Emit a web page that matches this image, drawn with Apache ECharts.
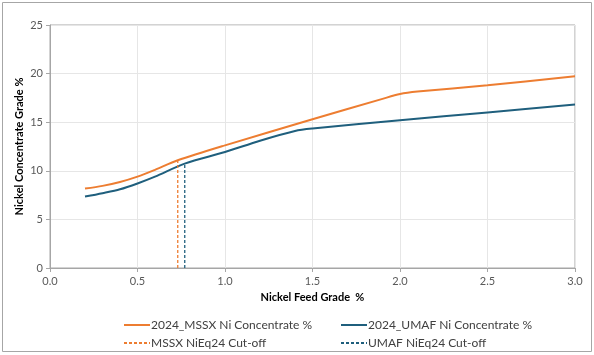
<!DOCTYPE html>
<html><head><meta charset="utf-8">
<script src="https://cdn.jsdelivr.net/npm/echarts@6/dist/echarts.min.js"></script>
<style>html,body{margin:0;padding:0;background:#fff}#c{width:594px;height:355px}</style>
</head><body><div id="c"></div>
<script>
const mssxX = [0.2, 0.3, 0.4, 0.5, 0.6, 0.73, 1.0, 1.5, 1.9, 2.0, 2.1, 2.5, 3.0];
const mssxY = [8.17, 8.45, 8.85, 9.4, 10.1, 11.08, 12.62, 15.3, 17.4, 17.9, 18.15, 18.8, 19.72];
const umafX = [0.2, 0.3, 0.4, 0.5, 0.6, 0.77, 1.0, 1.2, 1.4, 1.5, 2.0, 2.5, 3.0];
const umafY = [7.35, 7.7, 8.1, 8.7, 9.4, 10.74, 11.93, 13.1, 14.1, 14.35, 15.2, 16.0, 16.81];
const mssxCut = [0.73, 11.08];
const umafCut = [0.77, 10.74];
const names = ['2024_MSSX Ni Concentrate %', '2024_UMAF Ni Concentrate %', 'MSSX NiEq24 Cut-off', 'UMAF NiEq24 Cut-off'];
const xTicks = [0, 0.5, 1.0, 1.5, 2.0, 2.5, 3.0];
const yTicks = [0, 5, 10, 15, 20, 25];

const ORANGE = '#ED7D31', BLUE = '#1F5F7D';
const FONT = 'Lato';
const pairs = (xs, ys) => xs.map((x, i) => [x, ys[i]]);

const chart = echarts.init(document.getElementById('c'));
const legendBase = {orient: 'vertical', top: 314, itemGap: 6, itemWidth: 26, itemHeight: 10,
  itemStyle: {opacity: 0},
  textStyle: {color: '#404040', fontSize: 12, fontFamily: FONT, padding: [0, 0, 0, -4]}};
chart.setOption({
  animation: false,
  textStyle: {fontFamily: FONT},
  graphic: [{type: 'rect', shape: {x: 2.5, y: 2.5, width: 589, height: 349}, style: {fill: 'none', stroke: '#a6a6a6', lineWidth: 1}, silent: true}],
  grid: {left: 50, right: 19, top: 25, bottom: 87, show: true, borderColor: '#a6a6a6', borderWidth: 1},
  xAxis: {
    type: 'value', min: xTicks[0], max: xTicks[xTicks.length - 1], interval: 0.5,
    name: 'Nickel Feed Grade  %', nameLocation: 'middle', nameGap: 23,
    nameTextStyle: {fontWeight: 'bold', fontSize: 11, color: '#000', fontFamily: FONT},
    axisLine: {lineStyle: {color: '#a6a6a6'}},
    axisTick: {show: true, length: 4, lineStyle: {color: '#a6a6a6'}},
    axisLabel: {color: '#595959', fontSize: 11, margin: 8, formatter: v => v.toFixed(1)},
    splitLine: {lineStyle: {color: '#e6e6e6'}}
  },
  yAxis: {
    type: 'value', min: yTicks[0], max: yTicks[yTicks.length - 1], interval: 5,
    name: 'Nickel Concentrate Grade %', nameLocation: 'middle', nameGap: 25, nameMoveOverlap: false,
    nameTextStyle: {fontWeight: 'bold', fontSize: 11, color: '#000', fontFamily: FONT},
    axisLine: {show: true, lineStyle: {color: '#a6a6a6'}},
    axisTick: {show: true, length: 4, lineStyle: {color: '#a6a6a6'}},
    axisLabel: {color: '#595959', fontSize: 11, margin: 7},
    splitLine: {lineStyle: {color: '#e6e6e6'}}
  },
  legend: [
    Object.assign({data: [names[0], names[2]], left: 118}, legendBase),
    Object.assign({data: [names[1], names[3]], left: 335}, legendBase)
  ],
  series: [
    {name: names[0], type: 'line', data: pairs(mssxX, mssxY), smooth: 0.3, symbol: 'none', lineStyle: {color: ORANGE, width: 2}, itemStyle: {color: ORANGE}},
    {name: names[1], type: 'line', data: pairs(umafX, umafY), smooth: 0.3, symbol: 'none', lineStyle: {color: BLUE, width: 2}, itemStyle: {color: BLUE}},
    {name: names[2], type: 'line', data: [[mssxCut[0], 0], mssxCut], symbol: 'none', lineStyle: {color: ORANGE, width: 1.3, type: [3, 2]}, itemStyle: {color: ORANGE}},
    {name: names[3], type: 'line', data: [[umafCut[0], 0], umafCut], symbol: 'none', lineStyle: {color: BLUE, width: 1.3, type: [3, 2]}, itemStyle: {color: BLUE}}
  ]
});
</script></body></html>
